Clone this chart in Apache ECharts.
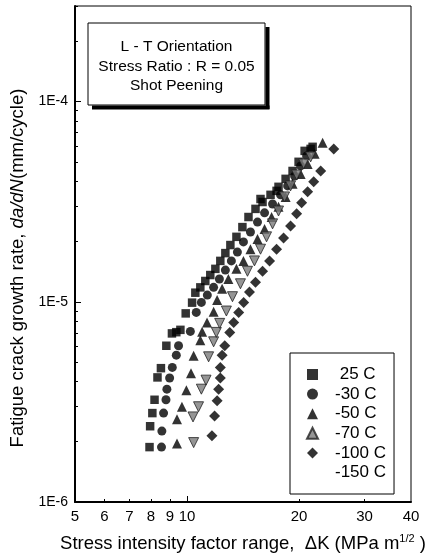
<!DOCTYPE html>
<html>
<head>
<meta charset="utf-8">
<script src="https://cdn.jsdelivr.net/npm/echarts@6/dist/echarts.min.js"></script>
<style>
  html, body { margin: 0; padding: 0; background: #fff; }
  #chart { width: 430px; height: 560px; }
</style>
</head>
<body>
<div id="chart"></div>
<script>
// ΔK (MPa m^1/2), da/dN (mm/cycle)
const s25 = [[7.93,1.88e-6],[7.96,2.39e-6],[8.07,2.78e-6],[8.18,3.24e-6],[8.33,4.19e-6],[8.51,4.66e-6],[8.80,6.03e-6],[9.11,6.95e-6],[9.36,7.05e-6],[9.60,7.24e-6],[9.92,8.75e-6],[10.32,9.9e-6],[10.53,1.11e-5],[10.86,1.18e-5],[11.20,1.27e-5],[11.55,1.36e-5],[11.92,1.46e-5],[12.29,1.60e-5],[12.68,1.75e-5],[13.08,1.92e-5],[13.58,2.11e-5],[14.09,2.36e-5],[14.63,2.65e-5],[15.28,2.91e-5],[15.76,3.26e-5],[15.96,3.15e-5],[16.77,3.42e-5],[17.41,3.58e-5],[17.62,3.75e-5],[18.41,4.11e-5],[19.22,4.50e-5],[19.95,5.00e-5],[20.71,5.67e-5],[21.49,5.80e-5],[21.76,5.94e-5]];
const s30 = [[8.54,1.88e-6],[8.56,2.26e-6],[8.65,2.78e-6],[8.78,3.24e-6],[8.83,3.66e-6],[8.98,4.16e-6],[9.13,4.70e-6],[9.36,5.41e-6],[9.49,6.03e-6],[10.21,7.11e-6],[10.59,8.85e-6],[10.93,9.93e-6],[11.34,1.08e-5],[11.79,1.18e-5],[12.22,1.30e-5],[12.68,1.44e-5],[13.16,1.60e-5],[13.66,1.77e-5],[14.18,1.99e-5],[14.81,2.23e-5],[15.47,2.50e-5],[16.16,2.78e-5],[16.98,3.08e-5],[17.84,3.42e-5],[18.64,3.79e-5],[19.46,4.25e-5],[20.20,4.77e-5],[20.97,5.35e-5]];
const s50 = [[9.40,1.96e-6],[9.40,2.59e-6],[9.69,2.99e-6],[9.96,3.62e-6],[10.25,4.40e-6],[10.42,5.37e-6],[10.86,6.43e-6],[10.98,7.08e-6],[11.32,7.89e-6],[11.79,8.91e-6],[12.05,1.02e-5],[12.43,1.16e-5],[12.92,1.30e-5],[13.58,1.46e-5],[14.18,1.60e-5],[14.81,1.83e-5],[15.47,2.06e-5],[16.16,2.31e-5],[16.88,2.65e-5],[17.62,2.98e-5],[18.41,3.34e-5],[19.22,3.88e-5],[20.20,4.35e-5],[21.10,4.88e-5],[22.03,5.48e-5],[23.15,6.22e-5]];
const s70 = [[10.42,1.98e-6],[10.38,2.66e-6],[10.74,2.99e-6],[10.93,3.66e-6],[11.25,4.06e-6],[11.43,5.31e-6],[11.79,6.31e-6],[11.99,7.03e-6],[12.24,7.80e-6],[12.76,8.99e-6],[13.25,1.06e-5],[13.92,1.23e-5],[14.54,1.42e-5],[15.18,1.60e-5],[15.76,1.83e-5],[16.36,2.11e-5],[16.98,2.45e-5],[17.62,2.84e-5],[18.29,3.34e-5],[18.98,3.79e-5],[19.71,4.30e-5],[20.58,4.88e-5],[21.49,5.29e-5]];
const s100 = [[11.67,2.14e-6],[11.86,2.69e-6],[12.05,3.20e-6],[12.16,3.66e-6],[12.29,4.16e-6],[12.29,4.70e-6],[12.43,5.41e-6],[12.63,6.03e-6],[13.03,7.03e-6],[13.35,7.89e-6],[13.77,8.85e-6],[14.20,9.93e-6],[14.72,1.12e-5],[15.28,1.25e-5],[15.96,1.42e-5],[16.67,1.60e-5],[17.41,1.83e-5],[18.18,2.08e-5],[18.98,2.39e-5],[19.71,2.75e-5],[20.33,3.12e-5],[21.10,3.54e-5],[21.90,3.97e-5],[22.87,4.50e-5],[24.80,5.80e-5]];
const s150 = [];

const xLabels = [5, 6, 7, 8, 9, 10, 20, 30, 40];
const xMajor = [10];
const xMinor = [6, 7, 8, 9, 20, 30];
const yLabels = [1e-6, 1e-5, 1e-4];
const yMinor = [2e-6,3e-6,4e-6,5e-6,6e-6,7e-6,8e-6,9e-6,2e-5,3e-5,4e-5,5e-5,6e-5,7e-5,8e-5,9e-5,2e-4,3e-4];

const FONT = '"Liberation Sans", Arial, sans-serif';

let myChart = echarts.init(document.getElementById('chart'));

const baseOption = {
  animation: false,
  grid: {
    left: 75, right: 19, top: 6, bottom: 58,
    show: true,
    borderColor: '#000',
    borderWidth: 1
  },
  graphic: {
    elements: [
      {
        type: 'rect', id: 'titleBox', z: 100,
        shape: { x: 88, y: 23, width: 177, height: 82 },
        style: { fill: '#fff', stroke: '#000', lineWidth: 1 }
      },
      {
        type: 'text', id: 'titleText', x: 176.5, y: 37, z: 102,
        style: {
          text: 'L - T Orientation\nStress Ratio : R = 0.05\nShot Peening',
          font: '15.5px ' + FONT, fill: '#000', align: 'center', lineHeight: 19.5
        }
      },
      // drop shadow of the title box
      { type: 'rect', id: 'shadowRight', z: 101, shape: { x: 265.5, y: 27, width: 4, height: 82 }, style: { fill: '#000' } },
      { type: 'rect', id: 'shadowBottom', z: 101, shape: { x: 92, y: 105.5, width: 177.5, height: 4 }, style: { fill: '#000' } }
    ]
  },
  legend: {
    orient: 'vertical',
    left: 290, top: 353,
    padding: [13, 8, 13, 16],
    borderColor: '#000', borderWidth: 1,
    itemWidth: 11, itemHeight: 11, itemGap: 2.6,
    textStyle: { fontFamily: FONT, fontSize: 17, color: '#000', lineHeight: 16, padding: [0, 0, 0, 12] },
    formatter: name => name.charAt(0) === '-' ? name : ' ' + name,
    data: ['25 C', '-30 C', '-50 C', '-70 C', '-100 C', { name: '-150 C', itemStyle: { opacity: 0 } }]
  },
  xAxis: [{
    type: 'log', logBase: 10, min: 5, max: 40,
    name: 'Stress intensity factor range,  ΔK (MPa m{sup|1/2} )',
    nameLocation: 'middle', nameGap: 31,
    nameTextStyle: { fontFamily: FONT, fontSize: 18.5, color: '#000', rich: { sup: { fontSize: 11, padding: [0, 0, 10, 0], fontFamily: FONT } } },
    axisLine: { lineStyle: { color: '#000', width: 2 } },
    axisTick: { inside: true, length: 6, customValues: xMajor, lineStyle: { color: '#000' } },
    axisLabel: { customValues: xLabels, fontFamily: FONT, fontSize: 15, color: '#000', margin: 7 },
    splitLine: { show: false }, minorTick: { show: false }
  }, {
    type: 'log', logBase: 10, min: 5, max: 40, position: 'bottom',
    axisLine: { show: false },
    axisTick: { inside: true, length: 3, customValues: xMinor, lineStyle: { color: '#000' } },
    axisLabel: { show: false },
    splitLine: { show: false }
  }],
  yAxis: [{
    type: 'log', logBase: 10, min: 1e-6, max: 3e-4,
    name: 'Fatigue crack growth rate, {i|da/dN}(mm/cycle)',
    nameLocation: 'middle', nameGap: 48,
    nameTextStyle: {
      fontFamily: FONT, fontSize: 18.5, color: '#000', padding: [0, 28, 0, 0],
      rich: { i: { fontStyle: 'italic', fontSize: 18.5, fontFamily: FONT } }
    },
    axisLine: { lineStyle: { color: '#000', width: 2 } },
    axisTick: { inside: true, length: 6, customValues: yLabels, lineStyle: { color: '#000' } },
    axisLabel: {
      customValues: yLabels, fontFamily: FONT, fontSize: 14, color: '#000', margin: 7,
      formatter: v => '1E' + Math.round(Math.log10(v))
    },
    splitLine: { show: false }
  }, {
    type: 'log', logBase: 10, min: 1e-6, max: 3e-4, position: 'left',
    axisLine: { show: false },
    axisTick: { inside: true, length: 3, customValues: yMinor, lineStyle: { color: '#000' } },
    axisLabel: { show: false },
    splitLine: { show: false }
  }],
  series: [
    { name: '-30 C', type: 'scatter', data: s30, symbol: 'circle', symbolSize: 9, itemStyle: { color: '#000' } },
    { name: '25 C', type: 'scatter', data: s25, symbol: 'rect', symbolSize: 8.5, itemStyle: { color: '#000' } },
    { name: '-50 C', type: 'scatter', data: s50, symbol: 'triangle', symbolSize: 10, itemStyle: { color: '#000' } },
    { name: '-70 C', type: 'scatter', data: s70, symbol: 'triangle', symbolRotate: 180, symbolSize: 10, itemStyle: { color: '#7a7a7a', borderColor: '#222', borderWidth: 1 } },
    { name: '-100 C', type: 'scatter', data: s100, symbol: 'diamond', symbolSize: 11, itemStyle: { color: '#000' } },
    { name: '-150 C', type: 'scatter', data: s150, symbol: 'rect', symbolSize: 8, itemStyle: { color: '#000' } }
  ]
};

myChart.setOption(baseOption);
</script>
</body>
</html>
